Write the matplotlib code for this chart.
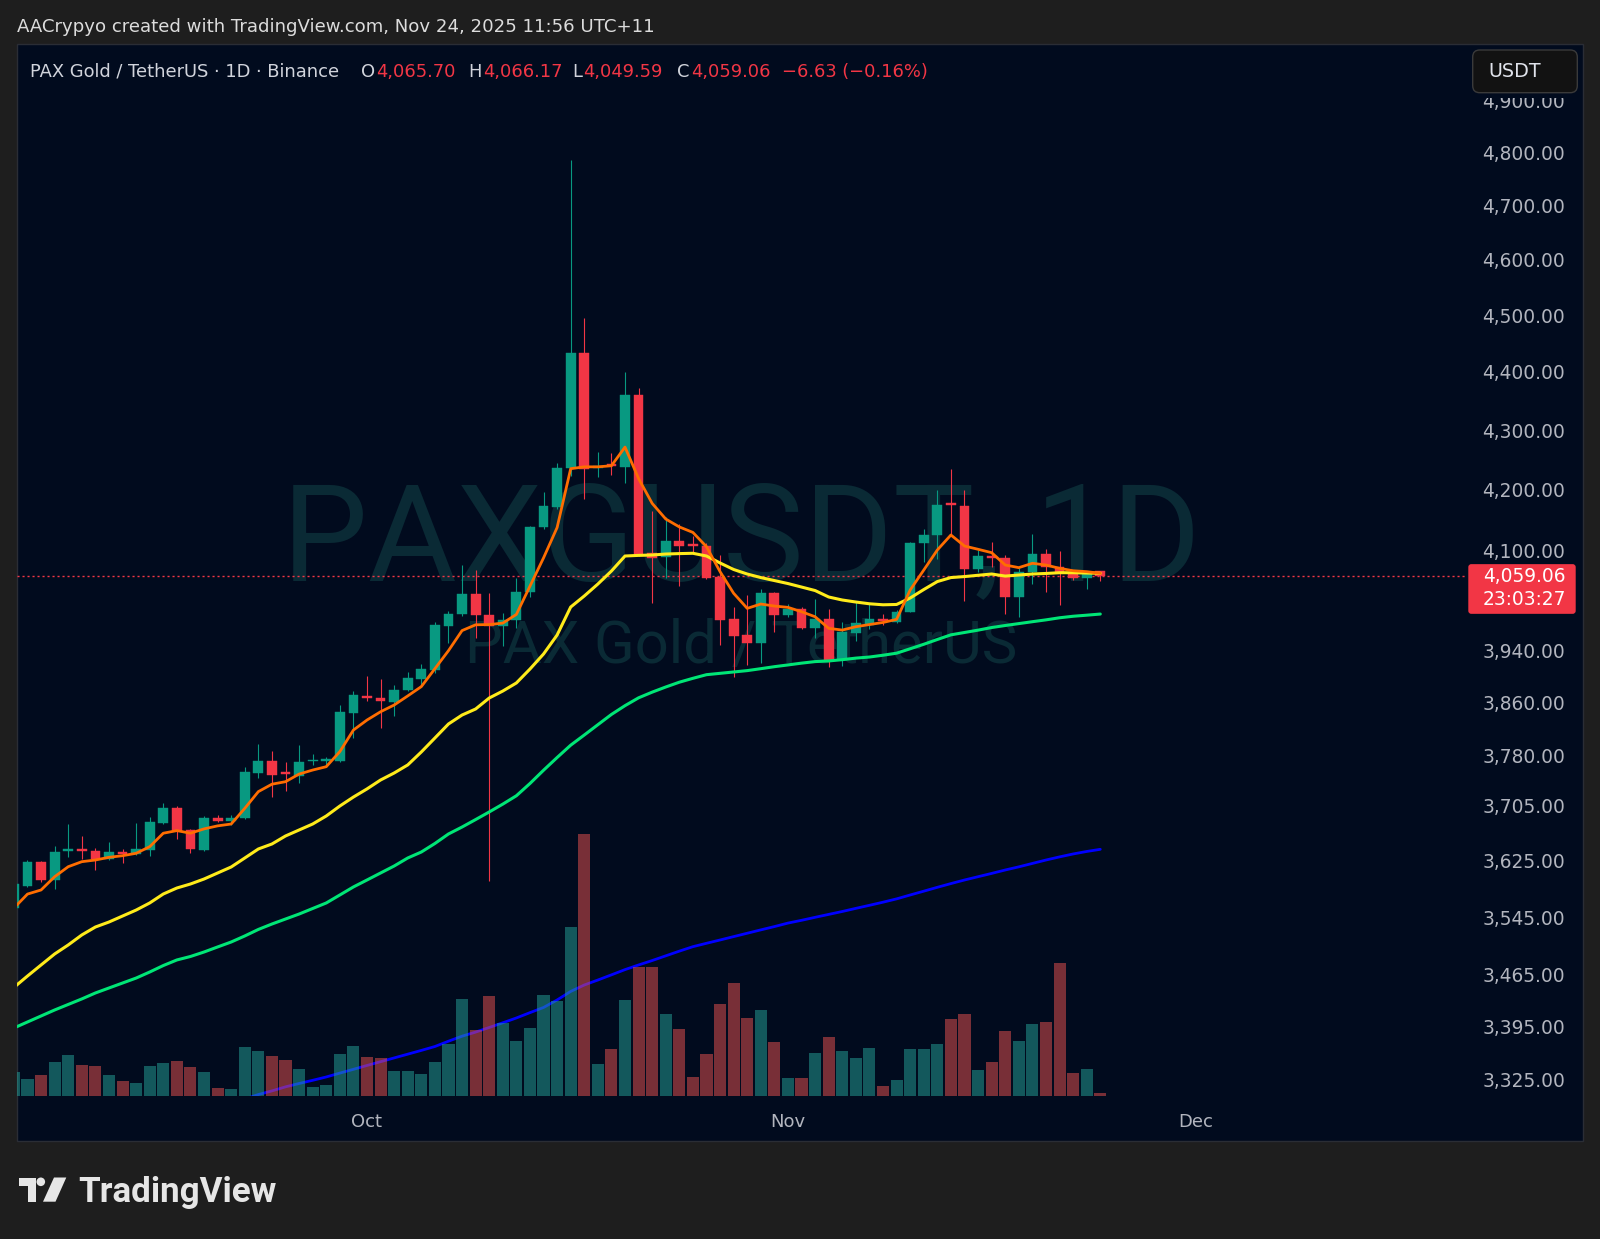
import numpy as np
import matplotlib
matplotlib.use("Agg")
import matplotlib.pyplot as plt
from matplotlib.patches import Rectangle, FancyBboxPatch, Circle, Polygon
from matplotlib.ticker import NullLocator, NullFormatter
from matplotlib.transforms import IdentityTransform

# ---------------- data (daily candles, 2025-09-05 .. 2025-11-24) ----------------
start_date = "2025-09-05"
opens = [3558.0, 3589.7, 3623.1, 3598.2, 3639.5, 3641.2, 3639.8, 3627.8, 3637.5, 3635.5,
         3641.3, 3680.4, 3702.3, 3669.3, 3641.3, 3687.2, 3683.3, 3687.2, 3753.1, 3771.5,
         3754.0, 3749.6, 3771.0, 3772.0, 3771.5, 3844.3, 3870.3, 3867.2, 3861.1, 3879.1,
         3896.5, 3910.4, 3979.2, 3997.1, 4029.0, 3996.5, 3978.5, 3988.1, 4032.5, 4137.6,
         4171.0, 4235.8, 4432.8, 4235.8, 4241.8, 4237.7, 4360.6, 4096.2, 4088.8, 4115.0,
         4109.6, 4106.8, 4056.1, 3989.2, 3964.5, 3952.4, 4030.6, 3995.5, 4005.5, 3975.5,
         3989.2, 3925.4, 3968.1, 3980.3, 3989.2, 3985.5, 4001.3, 4111.2, 4124.4, 4176.8,
         4171.9, 4069.6, 4090.6, 4087.9, 4024.0, 4065.3, 4093.3, 4072.4, 4062.7, 4055.6,
         4065.70]
highs = [3596.0, 3626.4, 3624.6, 3647.0, 3678.5, 3660.7, 3643.7, 3652.4, 3641.8, 3679.5,
         3689.1, 3709.6, 3704.4, 3671.6, 3689.7, 3691.2, 3691.6, 3763.0, 3797.0, 3786.5,
         3769.5, 3795.5, 3782.0, 3777.0, 3856.1, 3877.6, 3900.6, 3896.0, 3887.3, 3906.3,
         3919.7, 3985.5, 4002.4, 4076.0, 4068.5, 4031.2, 3998.9, 4055.8, 4139.0, 4196.0,
         4243.7, 4786.0, 4495.0, 4263.0, 4261.8, 4399.4, 4371.7, 4163.4, 4154.1, 4143.2,
         4123.2, 4111.2, 4092.2, 4009.1, 4027.8, 4037.4, 4033.1, 4013.1, 4009.1, 4020.9,
         4005.0, 3985.5, 4016.1, 4013.1, 3997.0, 4004.0, 4113.4, 4135.2, 4199.0, 4234.0,
         4199.0, 4100.4, 4112.8, 4091.7, 4070.7, 4126.5, 4102.5, 4098.7, 4063.7, 4066.4,
         4066.17]
lows = [3550.0, 3587.4, 3595.4, 3585.0, 3630.3, 3627.4, 3612.1, 3626.4, 3622.6, 3633.7,
        3632.2, 3679.0, 3656.3, 3636.1, 3639.4, 3681.0, 3676.6, 3686.0, 3746.6, 3718.5,
        3727.0, 3739.2, 3765.5, 3763.0, 3770.5, 3805.6, 3862.2, 3820.6, 3839.7, 3878.0,
        3884.8, 3904.8, 3951.5, 3994.4, 3959.5, 3596.8, 3946.6, 3976.3, 4024.5, 4134.0,
        4168.0, 4222.7, 4184.0, 4221.5, 4224.5, 4210.8, 4090.4, 4015.8, 4055.8, 4042.4,
        4097.5, 4053.0, 3948.8, 3898.7, 3917.7, 3920.3, 3969.2, 3992.8, 3974.0, 3959.3,
        3915.1, 3916.6, 3955.6, 3974.0, 3980.3, 3983.0, 4000.4, 4081.4, 4085.2, 4124.8,
        4018.6, 4065.3, 4073.3, 3997.1, 3993.3, 4046.2, 4033.1, 4011.8, 4051.8, 4037.0,
        4049.59]
closes = [3592.0, 3623.1, 3597.8, 3637.5, 3641.0, 3639.8, 3627.8, 3638.3, 3635.1, 3642.7,
          3680.9, 3702.3, 3668.3, 3641.8, 3686.8, 3683.3, 3687.7, 3754.6, 3771.5, 3750.6,
          3752.0, 3770.0, 3772.5, 3773.5, 3844.9, 3871.9, 3866.8, 3862.2, 3879.6, 3897.1,
          3911.5, 3979.8, 3998.1, 4029.6, 3995.9, 3978.1, 3988.7, 4032.5, 4138.1, 4172.9,
          4235.8, 4432.8, 4234.6, 4239.5, 4239.0, 4360.6, 4092.2, 4087.5, 4114.3, 4107.3,
          4106.8, 4054.6, 3988.1, 3963.4, 3952.4, 4030.6, 3995.5, 4005.5, 3975.5, 3989.2,
          3925.4, 3968.7, 3983.0, 3989.2, 3986.0, 4001.3, 4111.2, 4124.8, 4174.0, 4173.5,
          4069.6, 4090.6, 4086.9, 4024.0, 4065.3, 4093.3, 4072.4, 4062.7, 4054.6, 4062.7,
          4059.06]
volumes = [24, 17.3, 21, 34, 40.7, 31, 30, 21, 14.7, 13,
           30, 33.3, 35, 29.3, 24.3, 8, 7.3, 48.7, 45, 40,
           36, 26.7, 9.3, 10.7, 41.7, 49.7, 39, 37.7, 25.3, 25.3,
           22, 34, 52, 96.7, 65.7, 100.3, 73.3, 54.7, 67.7, 101,
           95, 169, 262.3, 32, 46.7, 96, 129.3, 129, 82.3, 66.7,
           19, 41.7, 92.3, 112.7, 77.7, 86.3, 54, 17.7, 17.7, 43.3,
           59, 45, 37.7, 48, 10, 15.7, 46.7, 47.3, 52.3, 76.7,
           81.7, 25.7, 33.7, 65.3, 55, 72, 74.3, 132.7, 23, 27.3,
           3]
ma_orange = [3558.0, 3577.8, 3583.6, 3602.5, 3616.8, 3624.0, 3626.4, 3630.3, 3632.6, 3636.1,
             3645.6, 3665.1, 3668.9, 3665.1, 3671.4, 3675.8, 3678.5, 3701.4, 3726.0, 3737.0,
             3740.7, 3752.0, 3758.0, 3763.0, 3785.5, 3818.0, 3833.2, 3845.8, 3856.1, 3870.0,
             3884.3, 3912.0, 3940.0, 3971.5, 3980.6, 3981.0, 3983.3, 3997.0, 4042.0, 4087.5,
             4137.0, 4234.6, 4237.7, 4237.7, 4239.5, 4271.0, 4218.0, 4176.8, 4151.0, 4138.0,
             4129.0, 4105.7, 4065.3, 4030.6, 4006.6, 4013.5, 4010.3, 4008.2, 4001.3, 3993.3,
             3975.0, 3972.3, 3977.6, 3981.0, 3984.3, 3989.2, 4035.9, 4067.9, 4100.4, 4124.8,
             4106.8, 4101.5, 4096.0, 4076.0, 4071.8, 4078.8, 4076.0, 4070.7, 4066.8, 4065.3,
             4062.7]
ma_yellow = [3447.9, 3463.5, 3478.7, 3493.9, 3506.4, 3520.3, 3531.4, 3538.4, 3546.8, 3555.2,
             3565.2, 3577.9, 3586.4, 3592.1, 3599.2, 3607.8, 3616.4, 3629.3, 3642.3, 3649.5,
             3661.1, 3669.8, 3678.5, 3690.2, 3704.8, 3718.0, 3730.0, 3743.2, 3753.6, 3765.6,
             3785.0, 3806.0, 3827.2, 3840.8, 3850.0, 3866.8, 3877.5, 3889.9, 3911.4, 3934.8,
             3964.5, 4008.7, 4026.3, 4045.4, 4066.3, 4090.6, 4091.6, 4092.2, 4093.8, 4094.5,
             4095.0, 4090.6, 4079.3, 4068.8, 4061.5, 4055.8, 4051.0, 4046.2, 4040.6, 4035.0,
             4024.7, 4019.9, 4016.7, 4013.9, 4012.3, 4012.8, 4023.1, 4036.6, 4049.4, 4055.8,
             4057.4, 4059.5, 4061.5, 4058.2, 4059.9, 4061.5, 4062.4, 4063.6, 4063.6, 4063.1,
             4062.7]
ma_green = [3392.9, 3401.0, 3409.1, 3417.2, 3424.7, 3432.2, 3440.3, 3447.1, 3453.9, 3460.7,
            3469.0, 3477.9, 3485.6, 3490.4, 3496.6, 3503.6, 3510.5, 3518.9, 3528.0, 3535.6,
            3542.6, 3549.6, 3557.4, 3565.2, 3576.5, 3587.9, 3597.8, 3607.8, 3617.8, 3629.3,
            3637.9, 3650.2, 3664.0, 3674.1, 3685.0, 3696.1, 3707.6, 3719.9, 3738.0, 3757.7,
            3776.7, 3795.2, 3810.5, 3826.1, 3841.7, 3855.1, 3867.1, 3875.8, 3883.7, 3891.1,
            3897.1, 3902.7, 3904.8, 3906.9, 3909.0, 3912.0, 3915.1, 3917.8, 3920.6, 3923.0,
            3924.0, 3926.0, 3928.4, 3930.1, 3932.9, 3936.1, 3943.0, 3950.0, 3957.5, 3964.8,
            3968.5, 3972.2, 3976.3, 3979.5, 3982.5, 3985.5, 3988.4, 3991.7, 3994.1, 3995.8,
            3997.6]
ma_blue_start = 17
ma_blue = [3298.8, 3304.6, 3309.4, 3314.7, 3319.1, 3323.3, 3327.7, 3332.8, 3337.8, 3342.9,
           3347.9, 3352.9, 3357.9, 3362.9, 3368.1, 3375.2, 3381.9, 3387.4, 3393.6, 3399.9,
           3406.4, 3413.6, 3420.6, 3430.8, 3442.4, 3451.2, 3458.0, 3465.1, 3472.3, 3478.7,
           3484.8, 3491.3, 3497.8, 3504.0, 3508.7, 3513.3, 3518.0, 3522.7, 3527.4, 3532.0,
           3536.9, 3540.8, 3545.0, 3549.1, 3553.2, 3557.6, 3561.9, 3566.3, 3571.0, 3576.5,
           3581.9, 3587.4, 3592.7, 3597.8, 3602.5, 3607.2, 3612.1, 3616.6, 3621.5, 3626.4,
           3630.9, 3635.1, 3638.7, 3641.8]
month_ticks = [26, 57, 87]          # day index of Oct 1, Nov 1, Dec 1
month_labels = ["Oct", "Nov", "Dec"]
price_ticks = [3325, 3395, 3465, 3545, 3625, 3705, 3780, 3860, 3940,
               4100, 4200, 4300, 4400, 4500, 4600, 4700, 4800, 4900]
last_price = 4059.06
countdown = "23:03:27"

# ---------------- styling ----------------
W, H = 1600, 1239
OUTER = "#1e1e1e"
BG = "#010b1e"
UP, DOWN = "#089981", "#f23645"
VUP, VDOWN = "#26a69a", "#ef5350"
AXIS_TXT = "#b2b5be"
TXT = "#d1d4dc"
WM = "#0a2a35"
UIFONT = ["DejaVu Sans"]
WMFONT = ["Roboto", "DejaVu Sans"]

fig = plt.figure(figsize=(W / 100, H / 100), dpi=100, facecolor=OUTER)

def fx(x):
    return x / W

def fy(y):
    return 1 - y / H

# chart panel
fig.patches.append(Rectangle((fx(17), fy(1141)), fx(1583) - fx(17), fy(44) - fy(1141),
                             transform=fig.transFigure, facecolor=BG, edgecolor="#2a2d35",
                             lw=1.0, zorder=-10))

rect = [fx(17), fy(1096), fx(1466) - fx(17), fy(45) - fy(1096)]
ax = fig.add_axes(rect)
ax.set_facecolor("none")
for s in ax.spines.values():
    s.set_visible(False)

n = len(closes)
x = np.arange(n)
o = np.array(opens); h = np.array(highs); l = np.array(lows); c = np.array(closes)
up = c >= o
cols = np.where(up, UP, DOWN)

ax.set_yscale("log")
ax.set_ylim(3302.7, 5008.6)
ax.set_xlim(0.227, 106.93)

# watermark
ax.text(0.5, 0.4913, "PAXGUSDT, 1D", transform=ax.transAxes, ha="center", va="baseline",
        fontsize=98, color=WM, family=WMFONT, zorder=0.5)
ax.text(0.5, 0.412, "PAX Gold / TetherUS", transform=ax.transAxes, ha="center", va="baseline",
        fontsize=43, color=WM, family=WMFONT, zorder=0.5)

# last price line
ax.axhline(last_price, color=DOWN, lw=1.0, linestyle=(0, (1.5, 2.1)), zorder=1.5)

# candles
ax.vlines(x, l, h, colors=cols, lw=0.8, zorder=2)
top = np.maximum(o, c); bot = np.minimum(o, c)
hgt = np.maximum(top - bot, bot * 0.0007)
ax.bar(x, hgt, bottom=bot, width=0.72, color=cols, edgecolor=cols, linewidth=0.3, zorder=2.1)

# moving averages
ax.plot(x, ma_green, color="#00e676", lw=2.2, zorder=3, solid_capstyle="round")
ax.plot(x, ma_yellow, color="#ffeb1a", lw=2.2, zorder=3, solid_capstyle="round")
ax.plot(x, ma_orange, color="#ff6d00", lw=2.0, zorder=3.1, solid_capstyle="round")
ax.plot(np.arange(ma_blue_start, ma_blue_start + len(ma_blue)), ma_blue, color="#0000ff",
        lw=2.0, zorder=3, solid_capstyle="round")

# axes ticks
ax.yaxis.tick_right()
ax.set_yticks(price_ticks, labels=[f"{v:,.2f}" for v in price_ticks], ha="right")
ax.yaxis.set_minor_locator(NullLocator())
ax.yaxis.set_minor_formatter(NullFormatter())
ax.tick_params(axis="y", length=0, pad=71.3, labelsize=13.4, labelcolor=AXIS_TXT)
ax.set_xticks(month_ticks, labels=month_labels)
ax.tick_params(axis="x", length=0, pad=12.0, labelsize=13.0, labelcolor=AXIS_TXT)
for t in ax.get_xticklabels() + ax.get_yticklabels():
    t.set_family(["DejaVu Sans"])

# volume overlay
axv = fig.add_axes(rect, sharex=ax)
axv.set_zorder(ax.get_zorder() + 1)
axv.patch.set_visible(False)
axv.axis("off")
axv.set_ylim(0, 1051)
vcols = np.where(up, VUP, VDOWN)
axv.bar(x, volumes, width=0.89, color=vcols, alpha=0.5, linewidth=0)
axv.set_xlim(0.227, 106.93)

# header texts
fig.text(fx(17), fy(32.3), "AACrypyo created with TradingView.com, Nov 24, 2025 11:56 UTC+11",
         ha="left", va="baseline", fontsize=13.1, color="#dcdcdc", family=UIFONT)
legend_parts = [
    (30.3, "PAX Gold / TetherUS · 1D · Binance", TXT),
    (360.6, "O", TXT), (375.8, "4,065.70", DOWN),
    (468.5, "H", TXT), (483.0, "4,066.17", DOWN),
    (572.7, "L", TXT), (583.0, "4,049.59", DOWN),
    (677.0, "C", TXT), (691.0, "4,059.06", DOWN),
    (782.0, "\u22126.63 (\u22120.16%)", DOWN),
]
for px, s, col in legend_parts:
    fig.text(fx(px), fy(76.7), s, ha="left", va="baseline", fontsize=12.9, color=col,
             family=UIFONT)

# USDT button (its backdrop hides the top of the highest price label)
fig.patches.append(Rectangle((1470, H - 97.5), 110, 47.5, transform=IdentityTransform(),
                             facecolor=BG, edgecolor="none", zorder=19))
btn = FancyBboxPatch((1472.7, H - 92.7), 104.6, 42.7, boxstyle="round,pad=0,rounding_size=7",
                     transform=IdentityTransform(), facecolor="#121212", edgecolor="#3a3a3a",
                     lw=1.0, zorder=20)
fig.patches.append(btn)
fig.text(fx(1488), fy(71.7), "USDT", ha="left", va="center", fontsize=13.8, color="#e0e3eb",
         family=UIFONT, zorder=21)

# last price label on the price scale
fig.canvas.draw()
ypx = ax.transData.transform((50, last_price))[1]
img_y = H - ypx + 2
lbl = FancyBboxPatch((1468.3, H - (img_y + 36.3)), 107.4, 49.7,
                     boxstyle="round,pad=0,rounding_size=3", transform=IdentityTransform(),
                     facecolor=DOWN, edgecolor="none", zorder=20)
fig.patches.append(lbl)
fig.text(fx(1566), fy(img_y - 1), f"{last_price:,.2f}", ha="right", va="center",
         fontsize=13.4, color="white", family=["DejaVu Sans"], zorder=21)
fig.text(fx(1566), fy(img_y + 21.6), countdown, ha="right", va="center",
         fontsize=13.4, color="white", family=["DejaVu Sans"], zorder=21)

# TradingView logo
logo_col = "#e6e6e6"
fig.patches.append(Polygon([(fx(18.5), fy(1177.5)), (fx(36), fy(1177.5)), (fx(36), fy(1201.7)),
                            (fx(27.5), fy(1201.7)), (fx(27.5), fy(1186)), (fx(18.5), fy(1186))],
                           closed=True, transform=fig.transFigure, facecolor=logo_col,
                           edgecolor="none", zorder=5))
fig.patches.append(Circle((40.8, H - 1181.8), 4.3, transform=IdentityTransform(),
                          facecolor=logo_col, edgecolor="none", zorder=5))
fig.patches.append(Polygon([(fx(54), fy(1177.5)), (fx(66.3), fy(1177.5)), (fx(55.5), fy(1201.7)),
                            (fx(43), fy(1201.7))], closed=True, transform=fig.transFigure,
                           facecolor=logo_col, edgecolor="none", zorder=5))
fig.text(fx(78.6), fy(1201.7), "TradingView", ha="left", va="baseline", fontsize=25.2,
         weight="bold", color=logo_col, family=["Roboto", "DejaVu Sans"])

fig.savefig("out.png", dpi=100, facecolor=OUTER)
